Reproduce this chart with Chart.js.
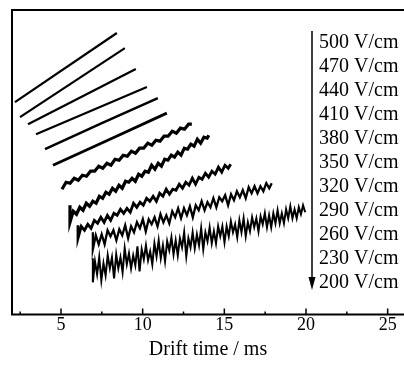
<!DOCTYPE html>
<html>
<head>
<meta charset="utf-8">
<script src="https://cdn.jsdelivr.net/npm/chart.js@4.4.0/dist/chart.umd.min.js"></script>
<style>
  html, body { margin: 0; padding: 0; background: #fff; }
</style>
</head>
<body>
<canvas id="chart" width="404" height="365"></canvas>
<script>
// legend, top to bottom (arrow points to lower field)
const fieldLabels = ['500 V/cm', '470 V/cm', '440 V/cm', '410 V/cm', '380 V/cm', '350 V/cm',
                     '320 V/cm', '290 V/cm', '260 V/cm', '230 V/cm', '200 V/cm'];

// x axis ticks
const majorTicks = [5, 10, 15, 20, 25];
const minorTicks = [2.5, 7.5, 12.5, 17.5, 22.5];

// traces: drift time (ms) and offset signal (a.u.)
const t500 = [2.18, 8.42];
const y500 = [21.2, 28.1];
const t470 = [2.49, 8.91];
const y470 = [19.7, 26.6];
const t440 = [2.98, 9.58];
const y440 = [19.0, 24.5];
const t410 = [3.47, 10.26];
const y410 = [18.0, 22.7];
const t380 = [4.02, 7.5, 10.93];
const y380 = [16.5, 19.1, 21.6];
const t350 = [4.51, 8.0, 11.48];
const y350 = [14.9, 17.5, 20.1];

const t320 = [5.06, 5.31, 5.56, 5.81, 6.06, 6.31, 6.56, 6.81, 7.06, 7.31, 7.56, 7.81, 8.06, 8.31,
              8.56, 8.81, 9.06, 9.31, 9.56, 9.81, 10.06, 10.31, 10.56, 10.81, 11.06, 11.31, 11.56,
              11.81, 12.06, 12.31, 12.56, 12.81, 13.01];
const y320 = [12.5, 13.2, 13.1, 13.6, 13.4, 13.9, 13.8, 14.3, 14.3, 14.8, 14.6, 15.1, 14.9, 15.5,
              15.4, 15.9, 15.8, 16.3, 16.1, 16.6, 16.6, 17.1, 16.9, 17.4, 17.3, 17.8, 17.8,
              18.3, 18.1, 18.6, 18.5, 19.0, 19.0];

const t290 = [5.55, 5.55, 5.75, 5.95, 6.15, 6.35, 6.55, 6.75, 6.95, 7.15, 7.35, 7.55, 7.75, 7.95,
              8.15, 8.35, 8.55, 8.75, 8.95, 9.15, 9.35, 9.55, 9.75, 9.95, 10.15, 10.35, 10.55,
              10.75, 10.95, 11.15, 11.35, 11.55, 11.75, 11.95, 12.15, 12.35, 12.55, 12.75, 12.95,
              13.15, 13.35, 13.55, 13.75, 13.95, 14.05];
const y290 = [10.9, 9.2, 10.3, 10.0, 10.7, 10.4, 11.1, 10.8, 11.3, 11.1, 11.8, 11.6, 12.2, 12.0,
              12.6, 12.3, 12.9, 12.6, 13.3, 13.2, 13.6, 13.3, 14.0, 13.8, 14.3, 14.2, 14.9,
              14.5, 15.1, 14.8, 15.5, 15.4, 15.9, 15.7, 16.2, 15.9, 16.6, 16.5, 17.0,
              16.8, 17.5, 17.1, 17.7, 17.6, 17.9];

const t260 = [6.04, 6.04, 6.24, 6.44, 6.64, 6.84, 7.04, 7.24, 7.44, 7.64, 7.84, 8.04, 8.24, 8.44,
              8.64, 8.84, 9.04, 9.24, 9.44, 9.64, 9.84, 10.04, 10.24, 10.44, 10.64, 10.84, 11.04,
              11.24, 11.44, 11.64, 11.84, 12.04, 12.24, 12.44, 12.64, 12.84, 13.04, 13.24, 13.44,
              13.64, 13.84, 14.04, 14.24, 14.44, 14.64, 14.84, 15.04, 15.24, 15.39];
const y260 = [8.9, 7.6, 8.8, 8.4, 9.0, 8.6, 9.4, 9.1, 9.7, 9.2, 9.9, 9.4, 10.1, 9.9,
              10.5, 10.1, 10.6, 10.2, 11.1, 10.7, 11.2, 10.9, 11.6, 11.3, 11.8, 11.3, 12.1,
              11.8, 12.5, 12.0, 12.5, 12.4, 13.0, 12.6, 13.2, 12.9, 13.6, 13.0, 13.7,
              13.5, 14.1, 13.7, 14.3, 14.0, 14.7, 14.2, 14.9, 14.6, 15.0];

const t230 = [6.95, 6.95, 7.13, 7.31, 7.49, 7.67, 7.85, 8.03, 8.21, 8.39, 8.57, 8.75, 8.93, 9.11,
              9.29, 9.47, 9.65, 9.83, 10.01, 10.19, 10.37, 10.55, 10.73, 10.91, 11.09, 11.27,
              11.45, 11.63, 11.81, 11.99, 12.17, 12.35, 12.53, 12.71, 12.89, 13.07, 13.25, 13.43,
              13.61, 13.79, 13.97, 14.15, 14.33, 14.51, 14.69, 14.87, 15.05, 15.23, 15.41, 15.59,
              15.77, 15.95, 16.13, 16.31, 16.49, 16.67, 16.85, 17.03, 17.21, 17.39, 17.57, 17.75, 17.9];
const y230 = [8.2, 6.5, 7.9, 7.0, 8.0, 7.0, 8.4, 7.8, 8.4, 7.4, 8.5, 7.9, 8.9, 7.6,
              8.8, 8.2, 9.2, 8.6, 9.5, 8.3, 9.5, 9.0, 9.7, 8.8, 10.0, 9.2,
              9.9, 9.1, 10.3, 9.7, 10.6, 9.6, 10.6, 9.9, 10.8, 9.7, 10.9, 10.4,
              11.3, 10.4, 11.2, 10.7, 11.6, 10.7, 11.7, 11.3, 11.9, 10.9, 12.0, 11.4,
              12.3, 11.7, 12.4, 11.6, 12.7, 12.1, 12.8, 12.1, 12.8, 12.3, 13.1, 12.6, 13.1];

const t200 = [6.95, 6.95, 7.08, 7.21, 7.34, 7.47, 7.60, 7.73, 7.86, 7.99, 8.12, 8.25, 8.38, 8.51,
              8.64, 8.77, 8.90, 9.03, 9.16, 9.29, 9.42, 9.55, 9.68, 9.81, 9.94, 10.07, 10.20,
              10.33, 10.46, 10.59, 10.72, 10.85, 10.98, 11.11, 11.24, 11.37, 11.50, 11.63, 11.76,
              11.89, 12.02, 12.15, 12.28, 12.41, 12.54, 12.67, 12.80, 12.93, 13.06, 13.19, 13.32,
              13.45, 13.58, 13.71, 13.84, 13.97, 14.10, 14.23, 14.36, 14.49, 14.62, 14.75, 14.88,
              15.01, 15.14, 15.27, 15.40, 15.53, 15.66, 15.79, 15.92, 16.05, 16.18, 16.31, 16.44,
              16.57, 16.70, 16.83, 16.96, 17.09, 17.22, 17.35, 17.48, 17.61, 17.74, 17.87, 18.00,
              18.13, 18.26, 18.39, 18.52, 18.65, 18.78, 18.91, 19.04, 19.17, 19.30, 19.43, 19.56,
              19.69, 19.82, 19.95];
const y200 = [5.6, 3.2, 5.3, 4.0, 5.7, 3.4, 5.1, 3.9, 5.9, 4.6, 5.7,
              3.6, 6.0, 4.6, 5.7, 4.2, 6.6, 5.0, 6.1, 4.6, 5.9,
              4.9, 6.8, 4.3, 6.5, 5.5, 6.9, 5.4, 6.3, 5.0, 7.1,
              5.8, 7.4, 5.6, 6.9, 5.3, 7.3, 6.4, 7.7, 6.0, 7.4,
              5.9, 7.6, 6.7, 8.2, 5.8, 7.6, 6.7, 8.2, 6.6, 8.0,
              6.9, 8.6, 6.5, 8.2, 7.3, 8.7, 7.1, 8.3, 7.1, 8.8,
              7.8, 8.8, 7.2, 8.8, 7.8, 9.3, 8.2, 9.0, 7.7, 9.4,
              8.2, 9.6, 7.8, 9.2, 8.3, 9.7, 8.7, 9.6, 8.3, 9.8,
              9.0, 10.1, 8.7, 9.9, 8.7, 10.1, 9.1, 10.4, 9.1, 10.1,
              9.1, 10.5, 9.6, 10.8, 9.6, 10.5, 9.6, 10.7, 10.0, 10.9,
              10.2];

// [times, values, line width]
const traces = [
  [t500, y500, 2.2], [t470, y470, 2.2], [t440, y440, 2.2], [t410, y410, 2.2],
  [t380, y380, 2.5], [t350, y350, 2.8], [t320, y320, 3.2], [t290, y290, 3.2],
  [t260, y260, 2.8], [t230, y230, 2.3], [t200, y200, 2.0]
];

const datasets = traces.map(([ts, ys, w]) => ({
  data: ts.map((t, i) => ({ x: t, y: ys[i] })),
  borderColor: '#000',
  borderWidth: w,
  borderJoinStyle: 'miter',
  pointRadius: 0,
  tension: 0,
  fill: false
}));

// frame, inward ticks and the arrow legend
const framePlugin = {
  id: 'frame',
  afterDraw(chart) {
    const { ctx, chartArea: a } = chart;
    const x = chart.scales.x;
    ctx.save();
    ctx.strokeStyle = '#000';
    ctx.lineWidth = 2;
    ctx.beginPath();
    ctx.moveTo(a.right + 2, a.top);
    ctx.lineTo(a.left, a.top);
    ctx.lineTo(a.left, a.bottom);
    ctx.lineTo(a.right + 2, a.bottom);
    ctx.stroke();

    ctx.lineWidth = 1.5;
    ctx.beginPath();
    majorTicks.forEach(v => {
      const px = x.getPixelForValue(v);
      ctx.moveTo(px, a.bottom);
      ctx.lineTo(px, a.bottom - 6);
    });
    minorTicks.forEach(v => {
      const px = x.getPixelForValue(v);
      ctx.moveTo(px, a.bottom);
      ctx.lineTo(px, a.bottom - 3);
    });
    ctx.stroke();

    // arrow
    const ax = 312;
    ctx.lineWidth = 1.5;
    ctx.beginPath();
    ctx.moveTo(ax, 31);
    ctx.lineTo(ax, 280);
    ctx.stroke();
    ctx.fillStyle = '#000';
    ctx.beginPath();
    ctx.moveTo(ax - 3.5, 277);
    ctx.lineTo(ax + 3.5, 277);
    ctx.lineTo(ax, 290);
    ctx.closePath();
    ctx.fill();

    ctx.font = '20px "Liberation Serif"';
    ctx.textAlign = 'left';
    ctx.textBaseline = 'middle';
    fieldLabels.forEach((lab, i) => {
      ctx.fillText(lab, 319, 43 + 24 * i);
    });
    ctx.restore();
  }
};

new Chart(document.getElementById('chart').getContext('2d'), {
  type: 'line',
  data: { datasets },
  options: {
    responsive: false,
    animation: false,
    devicePixelRatio: 1,
    layout: { padding: { left: 12, top: 10, right: 0, bottom: 0 } },
    plugins: { legend: { display: false }, tooltip: { enabled: false } },
    scales: {
      x: {
        type: 'linear',
        min: 2,
        max: 26,
        afterBuildTicks: (s) => { s.ticks = majorTicks.map(v => ({ value: v })); },
        grid: { display: false, drawTicks: false },
        border: { display: false },
        ticks: {
          color: '#000',
          font: { family: 'Liberation Serif', size: 18 },
          padding: 0,
          maxRotation: 0,
          autoSkip: false
        },
        title: {
          display: true,
          text: 'Drift time / ms',
          color: '#000',
          font: { family: 'Liberation Serif', size: 20 },
          padding: { top: 2, bottom: 3 }
        }
      },
      y: { display: false, min: 0, max: 30.4 }
    }
  },
  plugins: [framePlugin]
});
</script>
</body>
</html>
